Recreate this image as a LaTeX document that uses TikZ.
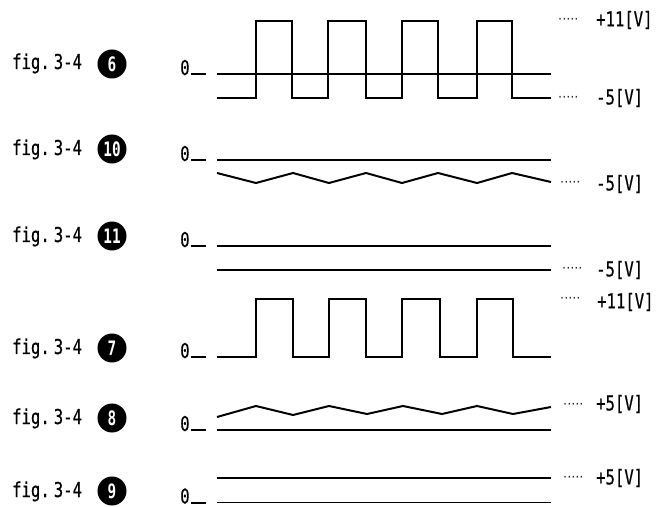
\documentclass[tikz,border=0pt]{standalone}
\usepackage{fontspec}
\newfontfamily\labfont[FakeStretch=0.76, FakeBold=0.5]{DejaVu Sans Mono}
\newfontfamily\numfont[FakeStretch=0.72]{DejaVu Sans Mono}
\newfontfamily\dotfont[FakeStretch=0.72]{DejaVu Sans Mono}
\usetikzlibrary{positioning}

\begin{document}
\begin{tikzpicture}[x=0.03cm, y=-0.03cm]
\tikzstyle{fig}=[anchor=base west, inner sep=0pt, font=\labfont\fontsize{17.5pt}{19pt}\selectfont]
\tikzstyle{num}=[circle, fill=black, text=white, minimum size=0.87cm, inner sep=0pt, font=\numfont\bfseries\fontsize{17pt}{19pt}\selectfont]
\tikzstyle{zero}=[anchor=base west, inner sep=0pt, font=\labfont\fontsize{17.5pt}{19pt}\selectfont]
\tikzstyle{dots}=[anchor=west, inner sep=0pt, font=\dotfont\bfseries\fontsize{8pt}{9pt}\selectfont]
\tikzstyle{volt}=[anchor=west, inner sep=0pt, font=\labfont\fontsize{17.5pt}{19pt}\selectfont]
\tikzstyle{wave}=[line width=1.7pt, line join=miter]
\useasboundingbox (0,0) rectangle (658,507);

% row labels
\node[fig] (f6) at (12,69) {fig.\hspace{3.5pt}3-4};
\node[num] (n6) at (112,64) {6};
\node[fig] (f10) at (12,155) {fig.\hspace{3.5pt}3-4};
\node[num] (n10) at (112,149) {10};
\node[fig] (f11) at (12,242) {fig.\hspace{3.5pt}3-4};
\node[num] (n11) at (112,236) {11};
\node[fig] (f7) at (12,354) {fig.\hspace{3.5pt}3-4};
\node[num] (n7) at (112,348) {7};
\node[fig] (f8) at (12,424) {fig.\hspace{3.5pt}3-4};
\node[num] (n8) at (112,418) {8};
\node[fig] (f9) at (12,497) {fig.\hspace{3.5pt}3-4};
\node[num] (n9) at (112,491) {9};

% zero marks
\node[zero] (z6) at (180,75) {0\hspace{1pt}\rule{12.8pt}{1.7pt}};
\node[zero] (z10) at (180,161) {0\hspace{1pt}\rule{12.8pt}{1.7pt}};
\node[zero] (z11) at (180,247) {0\hspace{1pt}\rule{12.8pt}{1.7pt}};
\node[zero] (z7) at (180,358) {0\hspace{1pt}\rule{12.8pt}{1.7pt}};
\node[zero] (z8) at (180,431) {0\hspace{1pt}\rule{12.8pt}{1.7pt}};
\node[zero] (z9) at (180,503.5) {0\hspace{1pt}\rule{12.8pt}{1.7pt}};

% fig. 3-4 (6)
\draw[wave] (217,74) -- (551,74);
\draw[wave] (217,98) -| (256,21) -| (292,98) -| (328,21) -| (366,98)
  -| (402,21) -| (438,98) -| (477,21) -| (512,98) -- (551,98);
% fig. 3-4 (10)
\draw[wave] (217,160) -- (551,160);
\draw[wave] (217,173) -- (256,183) -- (293,173) -- (329,183) -- (366,173)
  -- (402,183) -- (438,173) -- (477,183) -- (512,173) -- (551,182);
% fig. 3-4 (11)
\draw[wave] (217,246) -- (551,246);
\draw[wave] (217,270) -- (551,270);
% fig. 3-4 (7)
\draw[wave] (217,357) -| (256,299) -| (293,357) -| (329,299) -| (366,357)
  -| (402,299) -| (440,357) -| (477,299) -| (513,357) -- (551,357);
% fig. 3-4 (8)
\draw[wave] (217,430) -- (551,430);
\draw[wave] (217,417) -- (256,406) -- (293,415) -- (329,406) -- (367,414)
  -- (403,406) -- (442,414) -- (477,406) -- (513,414) -- (551,407);
% fig. 3-4 (9)
\draw[wave] (217,478) -- (551,478);
\draw[wave] (217,502.5) -- (551,502.5);

% levels
\node[dots] (d6a) at (558,20) {·····};
\node[volt] (v6a) at (596,20) {+11[V]};
\node[dots] (d6b) at (558,98) {·····};
\node[volt] (v6b) at (596,98) {-5[V]};
\node[dots] (d10) at (560,183) {·····};
\node[volt] (v10) at (596,184) {-5[V]};
\node[dots] (d11) at (562,269) {·····};
\node[volt] (v11) at (596,270) {-5[V]};
\node[dots] (d7) at (560,299) {·····};
\node[volt] (v7) at (597,302) {+11[V]};
\node[dots] (d8) at (563,405) {·····};
\node[volt] (v8) at (596,404) {+5[V]};
\node[dots] (d9) at (563,478) {·····};
\node[volt] (v9) at (596,478) {+5[V]};
\end{tikzpicture}
\end{document}
